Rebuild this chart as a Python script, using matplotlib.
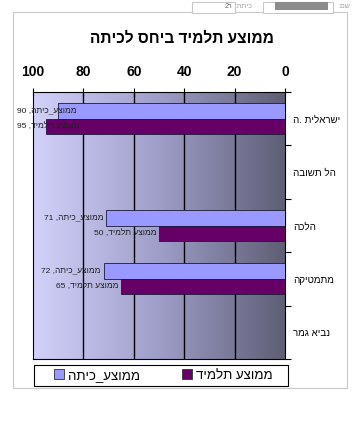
import numpy as np
import matplotlib
matplotlib.use("Agg")
import matplotlib.pyplot as plt
from matplotlib.patches import Rectangle, Patch
from matplotlib.colors import LinearSegmentedColormap

plt.rcParams['font.family'] = ['Liberation Sans', 'DejaVu Sans']

# ---- data ----
categories = ["ה. ישראלית", "הל תשובה", "הלכה", "מתמטיקה", "נביא גמר"]
class_avg = [90, np.nan, 71, 72, np.nan]
student_avg = [95, np.nan, 50, 65, np.nan]
series_names = ["ממוצע_כיתה", "ממוצע תלמיד"]
x_ticks = [0, 20, 40, 60, 80, 100]
title = "ממוצע תלמיד ביחס לכיתה"


def vis(s):
    # logical Hebrew -> visual (left-to-right) order
    return s[::-1]


def cat_vis(s):
    if s.startswith("ה. "):
        return "ה. " + s[3:][::-1]
    return vis(s)


def label_vis(name, v):
    return "%d ," % v + vis(name)


W, H = 358, 424
fig = plt.figure(figsize=(W / 100, H / 100), dpi=100)

# header fields (form decoration)
fig.patches.append(Rectangle((263 / W, 1 - 13 / H), 70 / W, 11 / H, transform=fig.transFigure,
                             facecolor='white', edgecolor='#C8C8C8', lw=0.8))
fig.patches.append(Rectangle((275 / W, 1 - 10 / H), 53 / W, 8 / H, transform=fig.transFigure,
                             facecolor='#8C8C8C', edgecolor='none'))
fig.patches.append(Rectangle((192 / W, 1 - 13 / H), 43 / W, 11 / H, transform=fig.transFigure,
                             facecolor='white', edgecolor='#C8C8C8', lw=0.8))
fig.text(350 / W, 1 - 7 / H, vis("שם:"), fontsize=5, color='#A0A0A0', ha='right', va='center')
fig.text(252 / W, 1 - 7 / H, vis("כיתה:"), fontsize=5, color='#A0A0A0', ha='right', va='center')
fig.text(232 / W, 1 - 7 / H, "2ר", fontsize=5, color='#606060', ha='right', va='center')

# chart frame
fig.patches.append(Rectangle((13 / W, 1 - 388 / H), 334 / W, 376 / H, transform=fig.transFigure,
                             facecolor='white', edgecolor='#C8C8C8', lw=0.8, zorder=-5))

ax = fig.add_axes([33 / W, 1 - 359 / H, 252 / W, 267 / H])

# gradient background
cmap = LinearSegmentedColormap.from_list('g', [(0.82, 0.82, 0.98), (0.62, 0.62, 0.79), (0.37, 0.37, 0.46)])
grad = np.linspace(0, 1, 256).reshape(1, -1)
ax.imshow(grad, extent=[0, 1, 0, 1], transform=ax.transAxes, aspect='auto', cmap=cmap, zorder=0)

n = len(categories)
y = np.arange(n)
h = 0.29
ax.barh(y - h / 2, class_avg, height=h, color='#9999FF', edgecolor='#1a1a3a', lw=0.6, zorder=3)
ax.barh(y + h / 2, student_avg, height=h, color='#660066', edgecolor='#1a1a3a', lw=0.6, zorder=3)

ax.set_xlim(100, 0)
ax.set_ylim(n - 0.5, -0.5)

for gx in x_ticks[1:-1]:
    ax.axvline(gx, color='black', lw=1.0, zorder=2)

ax.xaxis.tick_top()
ax.set_xticks(x_ticks)
ax.set_xticklabels([str(t) for t in x_ticks], fontsize=10, fontweight='bold')
ax.tick_params(axis='x', direction='inout', length=6, width=0.8, pad=6)

ax.yaxis.tick_right()
ax.set_yticks(y)
ax.set_yticklabels([cat_vis(c) for c in categories], fontsize=7.0)
ax.tick_params(axis='y', which='major', length=0, pad=6)
ax.set_yticks(np.arange(-0.5, n, 1.0), minor=True)
ax.tick_params(axis='y', which='minor', direction='out', length=4, width=0.8)

for s in ax.spines.values():
    s.set_color('black')
    s.set_linewidth(0.8)

# data labels
texts = []
for vals, name, off in [(class_avg, series_names[0], -h / 2), (student_avg, series_names[1], h / 2)]:
    for i, v in enumerate(vals):
        if np.isnan(v):
            continue
        t = ax.annotate(label_vis(name, v), xy=(v, i + off), xytext=(-2, 0),
                        textcoords='offset points', ha='right', va='center',
                        fontsize=6.0, color='#202020', zorder=5, annotation_clip=False)
        texts.append(t)

fig.canvas.draw()
r = fig.canvas.get_renderer()
for t in texts:
    bb = t.get_window_extent(r)
    if bb.x0 < 17:
        shift = 17 - bb.x0
        t.set_position((-2 + shift * 72 / 100, 0))

fig.text(182 / W, 1 - 38 / H, vis(title), fontsize=11.2, fontweight='bold',
         ha='center', va='center')

# legend
fig.patches.append(Rectangle((34 / W, 1 - 386 / H), 254 / W, 21 / H, transform=fig.transFigure,
                             facecolor='white', edgecolor='black', lw=0.8, zorder=1))
handles = [Patch(facecolor='#9999FF', edgecolor='#333333', lw=0.6),
           Patch(facecolor='#660066', edgecolor='#333333', lw=0.6)]
leg = fig.legend(handles, [vis(s) for s in series_names], ncol=2,
                 loc='center', bbox_to_anchor=(163 / W, 1 - 375.5 / H),
                 fontsize=9.5, frameon=False,
                 handlelength=0.75, handleheight=0.75, handletextpad=0.3, borderaxespad=0,
                 columnspacing=3.2, borderpad=0.2)
leg.set_zorder(3)

fig.savefig("out.png", dpi=100)
